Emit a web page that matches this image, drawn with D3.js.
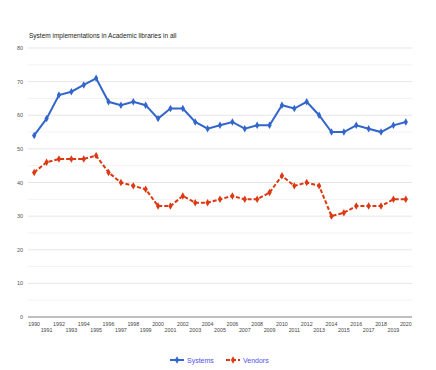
<!DOCTYPE html>
<html>
<head>
<meta charset="utf-8">
<script src="https://cdn.jsdelivr.net/npm/d3@7"></script>
<style>
  body { margin: 0; background: #fff; }
  text { font-family: Arial, "Liberation Sans", sans-serif; }
</style>
</head>
<body>
<div id="chart"></div>
<script>
// chart data
const years = d3.range(1990, 2021).map(String);
const systems = [54, 59, 66, 67, 69, 71, 64, 63, 64, 63, 59, 62, 62, 58, 56, 57,
                 58, 56, 57, 57, 63, 62, 64, 60, 55, 55, 57, 56, 55, 57, 58];
const vendors = [43, 46, 47, 47, 47, 48, 43, 40, 39, 38, 33, 33, 36, 34, 34, 35,
                 36, 35, 35, 37, 42, 39, 40, 39, 30, 31, 33, 33, 33, 35, 35];
const yTicks = [0, 10, 20, 30, 40, 50, 60, 70, 80];

const W = 436, H = 370;
const m = { top: 48, right: 24, bottom: 53, left: 28 };

const svg = d3.select('#chart').append('svg')
  .attr('width', W)
  .attr('height', H);

const x = d3.scalePoint()
  .domain(years)
  .range([m.left, W - m.right])
  .padding(0.5);

const y = d3.scaleLinear()
  .domain([0, 80])
  .range([H - m.bottom, m.top]);

// title
svg.append('text')
  .attr('x', 29).attr('y', 38)
  .attr('font-size', 6.5)
  .attr('fill', '#222')
  .text('System implementations in Academic libraries in all');

// gridlines (major + minor)
const grid = svg.append('g');
grid.selectAll('line.minor')
  .data(d3.range(5, 80, 10))
  .join('line')
  .attr('x1', m.left).attr('x2', W - m.right)
  .attr('y1', d => y(d)).attr('y2', d => y(d))
  .attr('stroke', '#f3f3f3').attr('stroke-width', 1);
grid.selectAll('line.major')
  .data(yTicks.filter(d => d > 0))
  .join('line')
  .attr('x1', m.left).attr('x2', W - m.right)
  .attr('y1', d => y(d)).attr('y2', d => y(d))
  .attr('stroke', '#e6e6e6').attr('stroke-width', 1);

// y labels
svg.append('g').selectAll('text')
  .data(yTicks)
  .join('text')
  .attr('x', 23)
  .attr('y', d => y(d) + 2)
  .attr('text-anchor', 'end')
  .attr('font-size', 5.5)
  .attr('fill', '#555')
  .text(d => d);

// baseline
svg.append('line')
  .attr('x1', m.left).attr('x2', W - m.right)
  .attr('y1', y(0)).attr('y2', y(0))
  .attr('stroke', '#aaa').attr('stroke-width', 1.5);

// x labels in two staggered rows
svg.append('g').selectAll('text')
  .data(years)
  .join('text')
  .attr('x', d => x(d))
  .attr('y', (d, i) => i % 2 === 0 ? y(0) + 9 : y(0) + 15)
  .attr('text-anchor', 'middle')
  .attr('font-size', 5.3)
  .attr('fill', '#444')
  .text(d => d);

const line = d3.line()
  .x((d, i) => x(years[i]))
  .y(d => y(d));

function drawSeries(vals, color, dash) {
  svg.append('path')
    .datum(vals)
    .attr('fill', 'none')
    .attr('stroke', color)
    .attr('stroke-width', 2)
    .attr('stroke-dasharray', dash)
    .attr('d', line);
  svg.append('g').selectAll('path')
    .data(vals)
    .join('path')
    .attr('transform', (d, i) => `translate(${x(years[i])},${y(d)})`)
    .attr('d', d3.symbol(d3.symbolDiamond, 16))
    .attr('fill', color);
}

drawSeries(systems, '#3366cc', null);
drawSeries(vendors, '#dc3912', '4,2');

// legend
const legend = [
  { name: 'Systems', color: '#3366cc', dash: null, x: 170 },
  { name: 'Vendors', color: '#dc3912', dash: '4,2', x: 226 }
];
const lg = svg.append('g').selectAll('g')
  .data(legend)
  .join('g')
  .attr('transform', d => `translate(${d.x},360)`);
lg.append('line')
  .attr('x1', 0).attr('x2', 14)
  .attr('stroke', d => d.color)
  .attr('stroke-width', 2)
  .attr('stroke-dasharray', d => d.dash);
lg.append('path')
  .attr('transform', 'translate(7,0)')
  .attr('d', d3.symbol(d3.symbolDiamond, 16))
  .attr('fill', d => d.color);
lg.append('text')
  .attr('x', 17).attr('y', 2.5)
  .attr('font-size', 7)
  .attr('fill', '#5050ee')
  .text(d => d.name);
</script>
</body>
</html>
